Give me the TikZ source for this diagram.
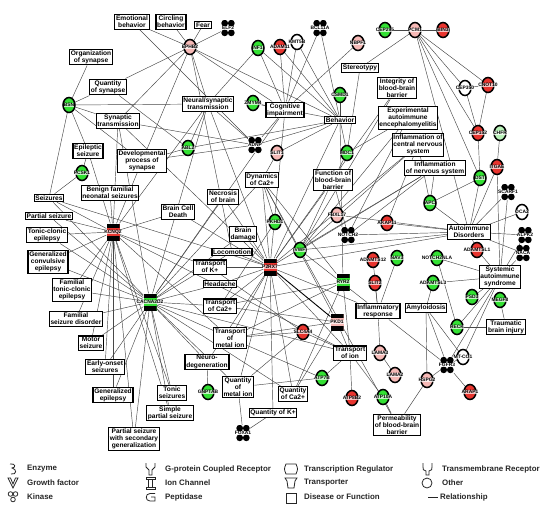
\documentclass[tikz,border=0pt]{standalone}
\usepackage{fontspec}
\setmainfont{Liberation Sans}
\usetikzlibrary{shapes.geometric}
\pgfdeclarelayer{bg}
\pgfsetlayers{bg,main}
\definecolor{gred}{HTML}{E8352F}
\definecolor{gpink}{HTML}{F6B9B6}
\definecolor{ggreen}{HTML}{33E033}
\definecolor{glgreen}{HTML}{B9F2B9}
\newcommand{\gn}[5]{\node[#1, fill=#2, label={[gl]center:#5}] (#3) at (#4) {};}
\begin{document}
\begin{tikzpicture}[x=1pt,y=-1pt,
  fn/.style={draw=black, line width=1.2pt, fill=white, align=center, inner sep=1.2pt,
    font=\fontsize{6.6}{7.2}\selectfont\bfseries},
  gene/.style={ellipse, minimum width=12pt, minimum height=15pt, inner sep=0pt, draw=black, line width=1.5pt},
  ion/.style={rectangle, minimum width=13pt, minimum height=17pt, inner sep=0pt,
    path picture={\fill[black] (path picture bounding box.north west) rectangle ([yshift=-4.5pt]path picture bounding box.north east);
      \fill[black] (path picture bounding box.south west) rectangle ([yshift=4.5pt]path picture bounding box.south east);}},
  tr/.style={rectangle, minimum width=14pt, minimum height=16pt, inner sep=0pt,
    path picture={\fill[black] ([xshift=-3.3pt,yshift=-3.2pt]path picture bounding box.north) circle (3.4pt)
      ([xshift=3.3pt,yshift=-3.2pt]path picture bounding box.north) circle (3.4pt)
      ([xshift=-3.3pt,yshift=3.2pt]path picture bounding box.south) circle (3.4pt)
      ([xshift=3.3pt,yshift=3.2pt]path picture bounding box.south) circle (3.4pt);}},
  gl/.style={font=\fontsize{4.9}{5}\selectfont\bfseries, inner sep=0.2pt, fill=white, fill opacity=0.7, text opacity=1},
  lnk/.style={draw=black!72, line width=0.45pt},
  licon/.style={draw=black!85, line width=0.8pt},
  lt/.style={anchor=west, inner sep=0pt, font=\fontsize{7.9}{8}\selectfont\bfseries, text=black!85}]
\useasboundingbox (0,0) rectangle (550,507);
% ---------------- function / disease boxes
\node[fn] (emo) at (132,22) {Emotional\\behavior};
\node[fn] (circ) at (171,22) {Circling\\behavior};
\node[fn] (fear) at (203,25) {Fear};
\node[fn] (orgsyn) at (91,57) {Organization\\of synapse};
\node[fn] (qsyn) at (108,87) {Quantity\\of synapse};
\node[fn] (syntr) at (118,121) {Synaptic\\transmission};
\node[fn] (neur) at (208,104) {Neural/synaptic\\transmission};
\node[fn] (cog) at (285,110) {Cognitive\\impairment};
\node[fn] (beh) at (340,120) {Behavior};
\node[fn] (stereo) at (360,68) {Stereotypy};
\node[fn] (intbbb) at (397,88) {Integrity of\\blood-brain\\barrier};
\node[fn] (eae) at (408,118) {Experimental\\autoimmune\\encephalomyelitis};
\node[fn] (infcns) at (418,145) {Inflammation of\\central nervous\\system};
\node[fn] (infns) at (435,168) {Inflammation\\of nervous system};
\node[fn] (epil) at (88,151) {Epileptic\\seizure};
\node[fn] (devsyn) at (142,161) {Developmental\\process of\\synapse};
\node[fn] (benign) at (110,193) {Benign familial\\neonatal seizures};
\node[fn] (seiz) at (49,198) {Seizures};
\node[fn] (partial) at (49,216) {Partial seizure};
\node[fn] (tcepi) at (47,235) {Tonic-clonic\\epilepsy};
\node[fn] (gce) at (48,262) {Generalized\\convulsive\\epilepsy};
\node[fn] (ftce) at (72,290) {Familial\\tonic-clonic\\epilepsy};
\node[fn] (fsd) at (76,319) {Familial\\seizure disorder};
\node[fn] (motor) at (91,343) {Motor\\seizure};
\node[fn] (early) at (105,367) {Early-onset\\seizures};
\node[fn] (genepi) at (113,395) {Generalized\\epilepsy};
\node[fn] (tonic) at (172,393) {Tonic\\seizures};
\node[fn] (simple) at (170,413) {Simple\\partial seizure};
\node[fn] (pswsg) at (134,439) {Partial seizure\\with secondary\\generalization};
\node[fn] (neurodeg) at (207,362) {Neuro-\\degeneration};
\node[fn] (bcd) at (178,212) {Brain Cell\\Death};
\node[fn] (necro) at (223,197) {Necrosis\\of brain};
\node[fn] (dynca) at (262,180) {Dynamics\\of Ca2+};
\node[fn] (bdam) at (243,234) {Brain\\damage};
\node[fn] (loco) at (232,252) {Locomotion};
\node[fn] (fbbb) at (333,180) {Function of\\blood-brain\\barrier};
\node[fn] (tk) at (210,267) {Transport\\of K+};
\node[fn] (head) at (220,284) {Headache};
\node[fn] (tca) at (220,306) {Transport\\of Ca2+};
\node[fn] (tmi) at (230,338) {Transport\\of\\metal ion};
\node[fn] (tion) at (350,353) {Transport\\of ion};
\node[fn] (infresp) at (378,311) {Inflammatory\\response};
\node[fn] (amyl) at (426,308) {Amyloidosis};
\node[fn] (autoim) at (469,232) {Autoimmune\\Disorders};
\node[fn] (sas) at (500,277) {Systemic\\autoimmune\\syndrome};
\node[fn] (tbi) at (506,327) {Traumatic\\brain injury};
\node[fn] (qmi) at (238,387) {Quantity\\of\\metal ion};
\node[fn] (qca) at (293,394) {Quantity\\of Ca2+};
\node[fn] (qk) at (273,413) {Quantity of K+};
\node[fn] (perm) at (397,425) {Permeability\\of blood-brain\\barrier};
% ---------------- genes
\gn{gene}{gpink}{ephb2}{190,47}{EPHB2}
\gn{tr}{white}{elf2}{228,28}{ELF2}
\gn{gene}{ggreen}{nf1}{258,48}{NF1}
\gn{gene}{gred}{adam11}{280,47}{ADAM11}
\gn{gene}{white}{kmt5b}{297,42}{KMT5B}
\gn{tr}{white}{bcl11a}{320,28}{BCL11A}
\gn{gene}{gpink}{nbpf1}{358,43}{NBPF1}
\gn{gene}{ggreen}{cep295}{385,30}{CEP295}
\gn{gene}{gpink}{pcm1}{415,30}{PCM1}
\gn{gene}{gred}{bin3}{443,30}{BIN3}
\gn{gene}{white}{cep350}{465,88}{CEP350}
\gn{gene}{gred}{cnot10}{488,85}{CNOT10}
\gn{gene}{gred}{cep152}{478,133}{CEP152}
\gn{gene}{glgreen}{chfr}{500,133}{CHFR}
\gn{gene}{gred}{itgae}{497,167}{ITGAE}
\gn{gene}{ggreen}{dst}{480,178}{DST}
\gn{tr}{white}{scarf1}{508,192}{SCARF1}
\gn{gene}{white}{oca2}{522,212}{OCA2}
\gn{gene}{ggreen}{apc}{430,203}{APC}
\gn{gene}{gred}{akap11}{387,223}{AKAP11}
\gn{tr}{white}{alpk2}{525,235}{ALPK2}
\gn{tr}{white}{naca}{523,253}{NACA}
\gn{gene}{gred}{adamtsl1}{477,250}{ADAMTSL1}
\gn{gene}{ggreen}{csmd1}{340,95}{CSMD1}
\gn{gene}{ggreen}{zmym4}{253,103}{ZMYM4}
\gn{gene}{ggreen}{abl2}{188,148}{ABL2}
\gn{tr}{white}{adnp}{255,145}{ADNP}
\gn{gene}{gpink}{slit1}{277,153}{SLIT1}
\gn{gene}{ggreen}{mdc}{347,153}{MDC1}
\gn{gene}{ggreen}{pcsk1}{82,173}{PCSK1}
\gn{ion}{gred}{kcnq2}{113,232}{KCNQ2}
\gn{ion}{ggreen}{cacna2d2}{150,302}{CACNA2D2}
\gn{gene}{ggreen}{pkhd1}{275,222}{PKHD1}
\gn{gene}{gpink}{fbxl17}{337,215}{FBXL17}
\gn{tr}{white}{notch2}{348,235}{NOTCH2}
\gn{gene}{ggreen}{vwf}{300,250}{VWF}
\gn{ion}{gred}{p2rx7}{270,267}{P2RX7}
\gn{ion}{ggreen}{ryr2}{343,282}{RYR2}
\gn{ion}{gpink}{pkd1}{337,322}{PKD1}
\gn{gene}{gred}{slc4a4}{303,332}{SLC4A4}
\gn{gene}{ggreen}{atp7b}{322,378}{ATP7B}
\gn{gene}{gred}{atp8b2}{352,398}{ATP8B2}
\gn{gene}{ggreen}{gnptab}{208,392}{GNPTAB}
\gn{tr}{white}{foxa1}{243,433}{FOXA1}
\gn{gene}{ggreen}{nav3}{397,258}{NAV3}
\gn{gene}{gred}{adamts12}{373,260}{ADAMTS12}
\gn{gene}{ggreen}{notch2nla}{437,258}{NOTCH2NLA}
\gn{gene}{ggreen}{adamtsl3}{433,283}{ADAMTSL3}
\gn{gene}{gred}{slit2}{375,283}{SLIT2}
\gn{gene}{ggreen}{psd3}{472,297}{PSD3}
\gn{gene}{ggreen}{megf8}{500,300}{MEGF8}
\gn{gene}{ggreen}{reck}{457,327}{RECK}
\gn{gene}{white}{mtco1}{463,357}{MT-CO1}
\gn{tr}{white}{fgfr3}{447,365}{FGFR3}
\gn{gene}{gpink}{lama3}{380,353}{LAMA3}
\gn{gene}{gpink}{lama2}{395,375}{LAMA2}
\gn{gene}{gpink}{hspg2}{427,380}{HSPG2}
\gn{gene}{ggreen}{atp10a}{383,397}{ATP10A}
\gn{gene}{gred}{arap1}{470,392}{ARAP1}
\gn{gene}{ggreen}{bsn}{69,105}{BSN}
% ---------------- relationships
\begin{pgfonlayer}{bg}
\foreach \a/\b in {ephb2/emo, ephb2/circ, ephb2/fear, ephb2/elf2, ephb2/qsyn, ephb2/syntr, ephb2/neur, ephb2/cog, ephb2/beh, ephb2/devsyn, ephb2/loco,
  bsn/orgsyn, bsn/qsyn, bsn/syntr, bsn/neur, bsn/devsyn, bsn/seiz, bsn/epil,
  emo/adnp, qsyn/abl2,
  syntr/kcnq2, syntr/p2rx7, syntr/cacna2d2, syntr/adnp,
  neur/nf1, neur/adnp, neur/kcnq2, neur/cacna2d2, neur/p2rx7, neur/abl2,
  cog/nf1, cog/adam11, cog/kmt5b, cog/bcl11a, cog/nbpf1, cog/adnp, cog/zmym4, cog/p2rx7, cog/cacna2d2,
  beh/nf1, beh/adam11, beh/kmt5b, beh/bcl11a, beh/csmd1, beh/adnp, beh/slit1, beh/mdc, beh/p2rx7, beh/ryr2, beh/zmym4, beh/abl2,
  stereo/pcm1, stereo/mdc, intbbb/p2rx7, intbbb/vwf, eae/notch2, eae/mdc, eae/vwf,
  infcns/vwf, infcns/p2rx7, infcns/apc, infcns/akap11, infns/apc, infns/p2rx7, infns/notch2, infns/vwf,
  epil/kcnq2, epil/pcsk1, devsyn/abl2, devsyn/adnp, devsyn/kcnq2, benign/kcnq2,
  seiz/kcnq2, seiz/cacna2d2, seiz/pcsk1, seiz/p2rx7,
  partial/kcnq2, partial/cacna2d2, tcepi/kcnq2, tcepi/cacna2d2, gce/kcnq2, gce/cacna2d2,
  ftce/kcnq2, ftce/cacna2d2, fsd/kcnq2, fsd/cacna2d2, motor/kcnq2, motor/cacna2d2,
  early/kcnq2, early/cacna2d2, genepi/kcnq2, genepi/cacna2d2, tonic/cacna2d2, tonic/kcnq2,
  simple/cacna2d2, simple/kcnq2, pswsg/cacna2d2, pswsg/kcnq2,
  neurodeg/cacna2d2, neurodeg/p2rx7, neurodeg/gnptab, bcd/p2rx7, bcd/kcnq2, necro/p2rx7, necro/cacna2d2,
  dynca/p2rx7, dynca/pkhd1, dynca/ryr2, dynca/pkd1, dynca/cacna2d2, dynca/slit1, dynca/vwf,
  bdam/p2rx7, bdam/cacna2d2, loco/p2rx7, loco/cacna2d2,
  fbbb/vwf, fbbb/p2rx7, fbbb/notch2, fbbb/mdc,
  tk/p2rx7, tk/kcnq2, tk/slc4a4, head/p2rx7, head/cacna2d2,
  tca/p2rx7, tca/cacna2d2, tca/ryr2, tca/pkd1, tca/pkhd1,
  tmi/p2rx7, tmi/cacna2d2, tmi/ryr2, tmi/pkd1, tmi/slc4a4, tmi/atp7b, tmi/kcnq2,
  tion/p2rx7, tion/ryr2, tion/pkd1, tion/slc4a4, tion/atp7b, tion/atp8b2, tion/atp10a, tion/cacna2d2, tion/kcnq2,
  infresp/p2rx7, infresp/slit2, infresp/adamts12, infresp/lama3, infresp/fgfr3, infresp/vwf, infresp/nav3,
  amyl/fgfr3, amyl/mtco1, amyl/hspg2, amyl/adamtsl3,
  autoim/apc, autoim/akap11, autoim/dst, autoim/scarf1, autoim/oca2, autoim/alpk2, autoim/adamtsl1, autoim/itgae,
  autoim/vwf, autoim/notch2, autoim/p2rx7, autoim/naca, autoim/fbxl17, autoim/pcm1,
  sas/adamtsl1, sas/psd3, sas/reck, sas/mtco1, sas/fgfr3, sas/itgae, sas/scarf1, sas/naca, sas/notch2nla, sas/adamtsl3, sas/alpk2,
  tbi/reck, tbi/megf8,
  qmi/cacna2d2, qmi/p2rx7, qmi/atp7b, qmi/foxa1, qmi/slc4a4, qca/cacna2d2, qca/p2rx7, qca/ryr2, qca/pkd1,
  qk/p2rx7, qk/foxa1, perm/hspg2, perm/atp10a, perm/vwf,
  cep295/pcm1, pcm1/bin3, pcm1/cep350, pcm1/cnot10, pcm1/cep152, pcm1/dst, cep350/cnot10, cep350/cep152, cnot10/cep152,
  cep152/dst, chfr/itgae, lama3/lama2, fgfr3/mtco1, fgfr3/arap1, dst/apc, notch2nla/reck, hspg2/fgfr3}
  \draw[lnk] (\a) -- (\b);
\draw[draw=black, line width=0.9pt] (p2rx7) -- (pkd1);
\end{pgfonlayer}
% ---------------- legend
\draw[licon] (10,464) .. controls (16,463) and (16,468) .. (12,468) .. controls (17,469) and (17,475) .. (11,474);
\draw[licon] (8,478) -- (13,488) -- (18,478) -- (15.5,478) -- (13,484) -- (10.5,478) -- cycle;
\draw[licon] (10.5,494) circle (2.3pt) (15.5,494) circle (2.3pt) (13,499.5) circle (2.3pt);
\draw[licon] (146,463) -- (146,467) -- (149,470) -- (149,475) -- (152,475) -- (152,470) -- (155,467) -- (155,463);
\draw[licon] (146,477) rectangle (155,479) (148.5,479) rectangle (152.5,487) (146,487) rectangle (155,489);
\draw[licon] (155,493.5) -- (150,493.5) .. controls (145,493.5) and (145,501) .. (150,501) -- (155,501) -- (155,497) -- (151,497);
\draw[licon] (286,464) .. controls (284,469) .. (286,474) -- (296,474) .. controls (298,469) .. (296,464) -- cycle;
\draw[licon] (285,478) -- (297,478) -- (295,481) -- (294,488) -- (288,488) -- (287,481) -- cycle;
\draw[licon] (286,493) rectangle (296,503);
\draw[licon] (423,463) -- (423,467) .. controls (423,470) .. (426,471) -- (426,475) -- (429,475) -- (429,471) .. controls (432,470) .. (432,467) -- (432,463);
\draw[licon] (427,483) circle (5pt);
\draw[line width=1pt, black!85] (428,497) -- (438,497);
\node[lt] at (27,469) {Enzyme};
\node[lt] at (27,483) {Growth factor};
\node[lt] at (27,497) {Kinase};
\node[lt] at (165,469) {G-protein Coupled Receptor};
\node[lt] at (165,483) {Ion Channel};
\node[lt] at (165,497) {Peptidase};
\node[lt] at (304,469) {Transcription Regulator};
\node[lt] at (304,483) {Transporter};
\node[lt] at (304,497) {Disease or Function};
\node[lt] at (442,469) {Transmembrane Receptor};
\node[lt] at (442,483) {Other};
\node[lt] at (440,497) {Relationship};
\end{tikzpicture}
\end{document}
